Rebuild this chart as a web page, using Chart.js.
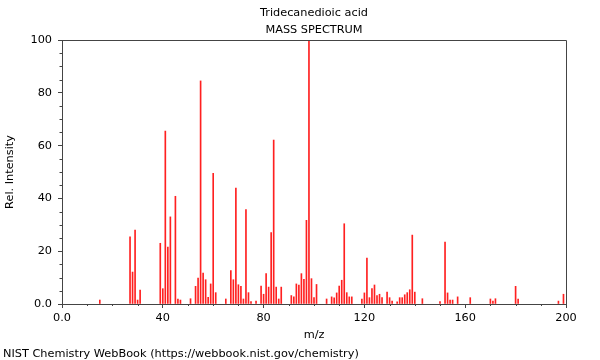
<!DOCTYPE html>
<html>
<head>
<meta charset="utf-8">
<script src="https://cdn.jsdelivr.net/npm/chart.js@4/dist/chart.umd.min.js"></script>
<style>
html,body{margin:0;padding:0;background:#fff;}
#wrap{width:600px;height:360px;position:relative;}
</style>
</head>
<body>
<div id="wrap"><canvas id="c" width="600" height="360"></canvas></div>
<script>
// m/z values of the peaks
const mz = [15,27,28,29,30,31,39,40,41,42,43,45,46,47,51,53,54,55,56,57,58,59,60,61,65,67,68,69,70,71,72,73,74,75,77,79,80,81,82,83,84,85,86,87,91,92,93,94,95,96,97,98,99,100,101,105,107,108,109,110,111,112,113,114,115,119,120,121,122,123,124,125,126,127,129,130,131,133,134,135,136,137,138,139,140,143,150,152,153,154,155,157,162,170,171,172,180,181,197,199];
// relative intensities of the peaks
const intensity = [1.5,25.4,12.1,28,1.5,5.3,23,5.8,65.5,21.6,33,40.8,1.9,1.5,2,6.7,9.8,84.5,11.7,9.2,2.5,7.6,49.5,4.3,1.9,12.7,9.2,43.9,7.3,6.7,1.9,35.8,4.3,0.9,1.1,6.8,3.7,11.5,6.4,27.1,62.1,6.4,1.9,6.4,3.2,2.7,7.6,7.2,11.5,9.3,31.7,100,9.6,2.4,7.4,1.9,2.7,2.3,4.2,6.8,9.0,30.4,4.3,2.7,2.7,1.9,4.2,17.4,2.4,5.8,7.2,3.2,3.7,2.4,4.5,2.4,1.1,0.8,2.4,2.4,3.5,4.3,5.4,26.1,4.5,2.0,0.9,23.5,4.2,1.5,1.5,2.7,2.4,1.9,1.1,2.0,6.7,1.9,1.1,3.7];
// tick values and labels
const xTickValues = [0,40,80,120,160,200];
const xTickLabels = ['0.0','40','80','120','160','200'];
const yTickValues = [0,20,40,60,80,100];
const yTickLabels = ['0.0','20','40','60','80','100'];
const xMinorStep = 10;
const yMinorStep = 5;

const titleLines = ['Tridecanedioic acid','MASS SPECTRUM'];
const xTitle = 'm/z';
const yTitle = 'Rel. Intensity';
const footer = 'NIST Chemistry WebBook (https://webbook.nist.gov/chemistry)';

const FONT = 'DejaVu Sans';
const AXIS = '#444';

function buildTicks(scale, step){
  const t = [];
  for (let v = scale.min; v <= scale.max + 1e-9; v += step) t.push({value: v});
  scale.ticks = t;
}
function labelFor(values, labels){
  return function(v){
    const i = values.indexOf(v);
    return i >= 0 ? labels[i] : '';
  };
}

const decor = {
  id: 'decor',
  afterDraw(chart){
    const ctx = chart.ctx, a = chart.chartArea;
    const xs = chart.scales.x, ys = chart.scales.y;
    ctx.save();
    ctx.strokeStyle = AXIS;
    ctx.lineWidth = 1;
    // frame top and right
    ctx.beginPath();
    ctx.moveTo(Math.round(a.left), Math.round(a.top) + 0.5);
    ctx.lineTo(Math.round(a.right) + 0.5, Math.round(a.top) + 0.5);
    ctx.lineTo(Math.round(a.right) + 0.5, Math.round(a.bottom));
    ctx.stroke();
    // minor ticks
    ctx.beginPath();
    xs.ticks.forEach(t => {
      if (xTickValues.indexOf(t.value) < 0) {
        const p = Math.round(xs.getPixelForValue(t.value)) + 0.5;
        ctx.moveTo(p, a.bottom); ctx.lineTo(p, a.bottom + 2);
      }
    });
    ys.ticks.forEach(t => {
      if (yTickValues.indexOf(t.value) < 0) {
        const p = Math.round(ys.getPixelForValue(t.value)) + 0.5;
        ctx.moveTo(a.left, p); ctx.lineTo(a.left - 2.5, p);
      }
    });
    ctx.stroke();
    // texts
    ctx.fillStyle = '#000';
    ctx.font = '11.3px "' + FONT + '"';
    ctx.textAlign = 'center';
    ctx.textBaseline = 'middle';
    const cx = (a.left + a.right) / 2;
    ctx.fillText(titleLines[0], cx, 13);
    ctx.fillText(titleLines[1], cx, 30);
    ctx.fillText(xTitle, cx, 335);
    ctx.textAlign = 'left';
    ctx.fillText(footer, 3, 354);
    ctx.save();
    ctx.translate(10, (a.top + a.bottom) / 2);
    ctx.rotate(-Math.PI / 2);
    ctx.textAlign = 'center';
    ctx.fillText(yTitle, 0, 0);
    ctx.restore();
    ctx.restore();
  }
};

new Chart(document.getElementById('c'), {
  type: 'bar',
  data: {
    datasets: [{
      data: mz.map((m, i) => ({x: m, y: intensity[i]})),
      backgroundColor: '#ff2020',
      borderWidth: 0,
      barThickness: 1,
      grouped: false
    }]
  },
  options: {
    responsive: false,
    animation: false,
    devicePixelRatio: 1,
    layout: {padding: {left: 0, right: 34, top: 40, bottom: 0}},
    plugins: {legend: {display: false}, tooltip: {enabled: false}, title: {display: false}},
    scales: {
      x: {
        type: 'linear', min: 0, max: 200, offset: false,
        afterBuildTicks: s => buildTicks(s, xMinorStep),
        afterFit: s => { s.height = 56; },
        ticks: {autoSkip: false, maxRotation: 0, color: '#000', padding: 3,
          font: {family: FONT, size: 11.3}, callback: labelFor(xTickValues, xTickLabels)},
        grid: {drawOnChartArea: false, tickLength: 4, offset: false,
          tickColor: c => (c.tick && xTickValues.indexOf(c.tick.value) >= 0) ? AXIS : 'rgba(0,0,0,0)'},
        border: {display: true, color: AXIS, width: 1}
      },
      y: {
        min: 0, max: 100,
        afterBuildTicks: s => buildTicks(s, yMinorStep),
        afterFit: s => { s.width = 62; },
        ticks: {autoSkip: false, color: '#000', padding: 6,
          font: {family: FONT, size: 11.3}, callback: labelFor(yTickValues, yTickLabels)},
        grid: {drawOnChartArea: false, tickLength: 4,
          tickColor: c => (c.tick && yTickValues.indexOf(c.tick.value) >= 0) ? AXIS : 'rgba(0,0,0,0)'},
        border: {display: true, color: AXIS, width: 1}
      }
    }
  },
  plugins: [decor]
});
</script>
</body>
</html>
